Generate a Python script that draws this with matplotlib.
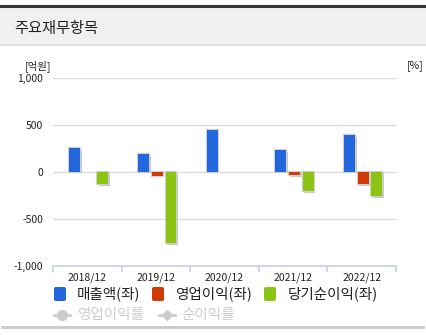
import numpy as np
import matplotlib
matplotlib.use("Agg")
import matplotlib.pyplot as plt
import matplotlib.patheffects as pe
from matplotlib.patches import Rectangle, FancyBboxPatch
from matplotlib.lines import Line2D

plt.rcParams['font.family'] = ['Noto Sans CJK KR', 'DejaVu Sans']

# data (억원)
years = ['2018/12', '2019/12', '2020/12', '2021/12', '2022/12']
sales = [250, 185, 447, 231, 390]
op_income = [0, -43, 0, -40, -134]
net_income = [-135, -762, 0, -205, -259]

series = [('매출액(좌)', sales, '#2268dc'),
          ('영업이익(좌)', op_income, '#d03a05'),
          ('당기순이익(좌)', net_income, '#8cc414')]
offsets = [-0.18, 0.02, 0.22]
yticks = [-1000, -500, 0, 500, 1000]

W, H = 426, 335
fig = plt.figure(figsize=(W / 100, H / 100), dpi=100)

def fx(px):
    return px / W

def fy(py):
    return 1 - py / H

# header
fig.patches.append(Rectangle((0, fy(45)), 1, fy(7) - fy(45), transform=fig.transFigure,
                             facecolor='#f0f0f0', edgecolor='none'))
fig.add_artist(Line2D([0, 1], [fy(6), fy(6)], color='#333333', lw=2.2))
fig.add_artist(Line2D([0, 1], [fy(45), fy(45)], color='#dcdcdc', lw=1.2))
fig.text(fx(14), fy(28), '주요재무항목', fontsize=11, color='#222222', va='center', ha='left')

# bottom line
fig.add_artist(Line2D([fx(2), fx(423)], [fy(327), fy(327)], color='#c8c8c8', lw=2))

ax = fig.add_axes([fx(53), fy(265.7), fx(396) - fx(53), fy(77.7) - fy(265.7)])
x = np.arange(len(years))
shadow = [pe.SimplePatchShadow(offset=(1.2, -1.2), shadow_rgbFace='#999999', alpha=0.55),
          pe.Stroke(linewidth=1.6, foreground='#d0d0d0'), pe.Normal()]
for (name, vals, col), off in zip(series, offsets):
    for xi, v in zip(x, vals):
        if v == 0:
            continue
        ax.bar(xi + off, v, width=0.16, color=col, edgecolor='none', zorder=3,
               path_effects=shadow)

ax.set_xlim(-0.5, len(years) - 0.5)
ax.set_ylim(-1000, 1000)
ax.set_yticks(yticks)
ax.set_yticklabels([f'{t:,}' for t in yticks], fontsize=7.5, color='#222222')
ax.tick_params(axis='y', length=0, pad=7)
for t in yticks[1:]:
    ax.axhline(t, color='#dddddd', lw=1, zorder=1)

ax.set_xticks(np.arange(-0.5, len(years)), minor=False)
ax.set_xticklabels([''] * (len(years) + 1))
ax.set_xticks(x, minor=True)
ax.set_xticklabels(years, minor=True, fontsize=7.5, color='#222222')
ax.tick_params(axis='x', which='major', length=4, color='#c5d0e0', width=1.2, direction='out')
ax.tick_params(axis='x', which='minor', length=0, pad=5)

for s in ['top', 'right', 'left']:
    ax.spines[s].set_visible(False)
ax.spines['bottom'].set_color('#c5d0e0')
ax.spines['bottom'].set_linewidth(1.2)

fig.text(fx(25), fy(66), '[억원]', fontsize=7.5, color='#222222', va='center', ha='left')
fig.text(fx(407), fy(66), '[%]', fontsize=7.5, color='#222222', va='center', ha='left')

# legend row 1
legend_x = [(54, 77), (152, 175), (264, 288)]
for (name, vals, col), (sx, tx) in zip(series, legend_x):
    fig.patches.append(FancyBboxPatch((fx(sx), fy(301)), fx(12), fy(287) - fy(301),
                                      boxstyle='round,pad=0,rounding_size=0.005',
                                      transform=fig.transFigure, facecolor=col,
                                      edgecolor='none'))
    fig.text(fx(tx), fy(294), name, fontsize=10.5, color='#222222', va='center', ha='left')

# legend row 2 (line series, no data)
gray = '#cccccc'
fig.add_artist(Line2D([fx(54), fx(70)], [fy(315), fy(315)], color=gray, lw=2))
fig.add_artist(Line2D([fx(62)], [fy(315)], color=gray, marker='o', markersize=7,
                      linestyle='none'))
fig.text(fx(77), fy(315), '영업이익률', fontsize=10.5, color=gray, va='center', ha='left')
fig.add_artist(Line2D([fx(159), fx(175)], [fy(315), fy(315)], color=gray, lw=2))
fig.add_artist(Line2D([fx(167)], [fy(315)], color=gray, marker='D', markersize=5,
                      linestyle='none'))
fig.text(fx(181), fy(315), '순이익률', fontsize=10.5, color=gray, va='center', ha='left')

fig.savefig('out.png', dpi=100)
